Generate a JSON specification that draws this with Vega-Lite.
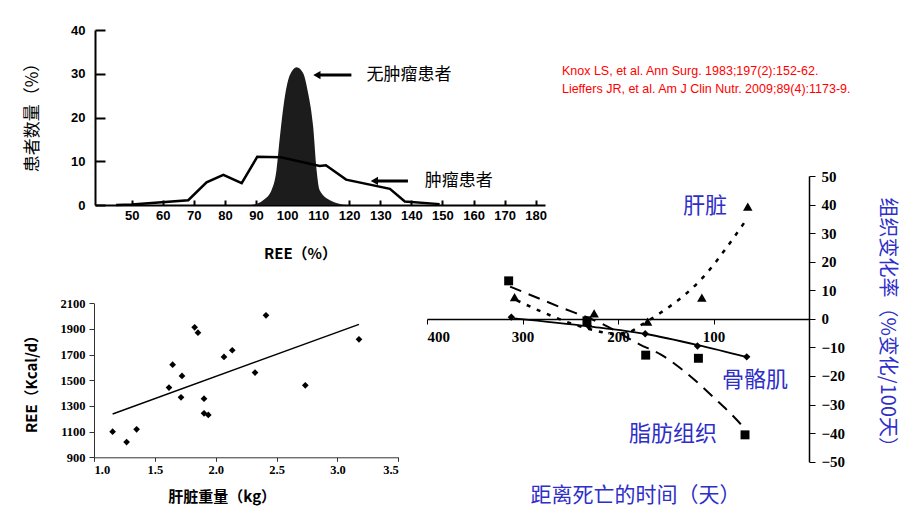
{
  "$schema": "https://vega.github.io/schema/vega-lite/v6.json",
  "width": 920,
  "height": 518,
  "autosize": "none",
  "padding": 0,
  "background": "white",
  "config": {
    "view": {"stroke": null},
    "axis": {"grid": false, "domainColor": "black", "tickColor": "black", "labelColor": "black", "titleColor": "black", "titleAlign": "center", "titleBaseline": "middle"}
  },
  "datasets": {
    "healthy": [
      {"x": 88.6, "y": 0}, {"x": 92.3, "y": 1.1}, {"x": 95, "y": 3.4}, {"x": 96.6, "y": 8}, {"x": 97.7, "y": 15.6},
      {"x": 99.3, "y": 24.8}, {"x": 100.9, "y": 29.7}, {"x": 103.1, "y": 31.5}, {"x": 105.2, "y": 30.1},
      {"x": 106.8, "y": 25.5}, {"x": 108.4, "y": 17.9}, {"x": 109.5, "y": 8}, {"x": 110.5, "y": 3.4},
      {"x": 113.8, "y": 1.1}, {"x": 119.1, "y": 0}
    ],
    "tumor": [
      {"x": 45, "y": 0}, {"x": 50, "y": 0.1}, {"x": 68.2, "y": 1.1}, {"x": 74.1, "y": 5.2}, {"x": 79.5, "y": 6.9},
      {"x": 85.4, "y": 5.0}, {"x": 90.4, "y": 11.0}, {"x": 98, "y": 10.9}, {"x": 110.5, "y": 8.9},
      {"x": 112.5, "y": 9.1}, {"x": 119, "y": 5.8}, {"x": 133.1, "y": 3.7}, {"x": 137.9, "y": 0.8}, {"x": 149.1, "y": 0.2}
    ],
    "arrowShafts": [
      {"x": 110, "x2": 120.7, "y": 29.7},
      {"x": 128, "x2": 138.9, "y": 5.5}
    ],
    "arrowHeads": [
      {"x": 109.6, "y": 29.7},
      {"x": 128.1, "y": 5.5}
    ],
    "labels1": [
      {"label": "无肿瘤患者", "x": 125.6, "y": 29.7},
      {"label": "肿瘤患者", "x": 144.3, "y": 5.5}
    ],
    "liverPts": [
      {"x": 1.153, "y": 1100}, {"x": 1.268, "y": 1019}, {"x": 1.35, "y": 1118}, {"x": 1.616, "y": 1443},
      {"x": 1.646, "y": 1622}, {"x": 1.715, "y": 1367}, {"x": 1.723, "y": 1534}, {"x": 1.827, "y": 1913},
      {"x": 1.854, "y": 1871}, {"x": 1.904, "y": 1357}, {"x": 1.904, "y": 1243}, {"x": 1.939, "y": 1230},
      {"x": 2.068, "y": 1682}, {"x": 2.136, "y": 1734}, {"x": 2.323, "y": 1560}, {"x": 2.413, "y": 2006},
      {"x": 2.736, "y": 1461}, {"x": 3.177, "y": 1819}
    ],
    "trend": [
      {"x": 1.153, "y": 1238}, {"x": 3.177, "y": 1936}
    ],
    "fatPts": [
      {"x": 314.5, "y": 13.3}, {"x": 232.5, "y": -0.7}, {"x": 171, "y": -12.7}, {"x": 115.8, "y": -13.8}, {"x": 67, "y": -40.6}
    ],
    "liverTri": [
      {"x": 308.3, "y": 7.6}, {"x": 225, "y": 1.9}, {"x": 169, "y": -1}, {"x": 112.2, "y": 7.4}, {"x": 64.1, "y": 39.3}
    ],
    "musclePts": [
      {"x": 311.7, "y": 0.6}, {"x": 230.8, "y": -2.5}, {"x": 171.5, "y": -5.2}, {"x": 116.8, "y": -9.5}, {"x": 65.2, "y": -13.3}
    ],
    "muscleCurve": [
      {"x": 309, "y": 0.2}, {"x": 231, "y": -2.6}, {"x": 171, "y": -5.3}, {"x": 116, "y": -9.2}, {"x": 65, "y": -13.4}
    ],
    "fatCurve": [
      {"x": 313, "y": 11.3}, {"x": 262, "y": 4.3}, {"x": 215, "y": -2}, {"x": 177, "y": -9}, {"x": 155, "y": -12.5},
      {"x": 130, "y": -18.5}, {"x": 97, "y": -28.4}, {"x": 79, "y": -34.2}, {"x": 67, "y": -38.5}
    ],
    "liverCurve": [
      {"x": 306, "y": 6.5}, {"x": 280, "y": 2.5}, {"x": 250, "y": -1.5}, {"x": 225, "y": -4}, {"x": 205, "y": -5.2},
      {"x": 190, "y": -4.8}, {"x": 175, "y": -2}, {"x": 156, "y": 2}, {"x": 128, "y": 9}, {"x": 107, "y": 16},
      {"x": 88, "y": 24.2}, {"x": 65, "y": 35}
    ],
    "tissueLabels": [
      {"label": "肝脏", "x": 108.8, "y": 39.6},
      {"label": "骨骼肌", "x": 56.5, "y": -21.4},
      {"label": "脂肪组织", "x": 142.3, "y": -40.3}
    ],
    "refs": [
      {"label": "Knox LS, et al. Ann Surg. 1983;197(2):152-62.", "x": 258.7, "y": 86.6},
      {"label": "Lieffers JR, et al. Am J Clin Nutr. 2009;89(4):1173-9.", "x": 258.7, "y": 80.4}
    ]
  },
  "layer": [
    {
      "encoding": {
        "x": {
          "field": "x", "type": "quantitative",
          "scale": {"domain": [38.2, 183], "range": [95, 545], "nice": false, "zero": false},
          "axis": {
            "orient": "bottom", "offset": -313, "values": [50, 60, 70, 80, 90, 100, 110, 120, 130, 140, 150, 160, 170, 180],
            "tickSize": -5, "tickWidth": 2, "domainWidth": 2, "labelPadding": 9,
            "labelFont": "Liberation Sans", "labelFontWeight": "bold", "labelFontSize": 13,
            "title": "REE（%）", "titleFont": "Noto Sans CJK SC", "titleFontSize": 15, "titleFontWeight": "bold",
            "titleX": 300, "titleY": 48
          }
        },
        "y": {
          "field": "y", "type": "quantitative",
          "scale": {"domain": [0, 40], "range": [205, 30], "nice": false},
          "axis": {
            "orient": "left", "offset": -95, "values": [0, 10, 20, 30, 40],
            "tickSize": -10, "tickWidth": 2, "domainWidth": 2, "labelPadding": 20,
            "labelFont": "Liberation Sans", "labelFontWeight": "bold", "labelFontSize": 13,
            "title": "患者数量（%）", "titleFont": "Noto Sans CJK SC", "titleFontSize": 17, "titleFontWeight": "normal",
            "titleX": -63, "titleY": 113, "titleAngle": 270
          }
        }
      },
      "layer": [
        {"data": {"name": "healthy"}, "mark": {"type": "area", "interpolate": "monotone", "color": "#1c1c1c"}},
        {"data": {"name": "tumor"}, "mark": {"type": "line", "color": "black", "strokeWidth": 2.5}},
        {"data": {"name": "arrowShafts"}, "mark": {"type": "rule", "color": "black", "strokeWidth": 3}, "encoding": {"x2": {"field": "x2"}}},
        {"data": {"name": "arrowHeads"}, "mark": {"type": "point", "shape": "triangle-left", "filled": true, "color": "black", "opacity": 1, "size": 70}},
        {"data": {"name": "labels1"}, "mark": {"type": "text", "align": "left", "baseline": "middle", "font": "Noto Sans CJK SC", "fontSize": 17, "color": "black"}, "encoding": {"text": {"field": "label"}}}
      ]
    },
    {
      "encoding": {
        "x": {
          "field": "x", "type": "quantitative",
          "scale": {"domain": [1, 3.5], "range": [94, 398.3], "nice": false, "zero": false},
          "axis": {
            "orient": "bottom", "offset": -60.7, "values": [1, 1.5, 2, 2.5, 3, 3.5], "format": ".1f",
            "tickSize": 4, "labelPadding": 2, "domainColor": "#333", "tickColor": "#333",
            "labelFont": "Liberation Serif", "labelFontWeight": "bold", "labelFontSize": 12.5,
            "title": "肝脏重量（kg）", "titleFont": "Noto Sans CJK SC", "titleFontSize": 15, "titleFontWeight": "bold",
            "titleX": 221.7, "titleY": 38.7
          }
        },
        "y": {
          "field": "y", "type": "quantitative",
          "scale": {"domain": [900, 2100], "range": [457.3, 303.3], "nice": false, "zero": false},
          "axis": {
            "orient": "left", "offset": -94, "values": [900, 1100, 1300, 1500, 1700, 1900, 2100], "format": "d",
            "tickSize": 5, "labelPadding": 4, "domainColor": "#333", "tickColor": "#333",
            "labelFont": "Liberation Serif", "labelFontWeight": "bold", "labelFontSize": 12.5,
            "title": "REE（Kcal/d）", "titleFont": "Noto Sans CJK SC", "titleFontSize": 15, "titleFontWeight": "bold",
            "titleX": -62.3, "titleY": 380, "titleAngle": 270
          }
        }
      },
      "layer": [
        {"data": {"name": "trend"}, "mark": {"type": "line", "color": "black", "strokeWidth": 1.5}},
        {"data": {"name": "liverPts"}, "mark": {"type": "point", "shape": "diamond", "filled": true, "color": "black", "opacity": 1, "size": 45}}
      ]
    },
    {
      "encoding": {
        "x": {
          "field": "x", "type": "quantitative",
          "scale": {"domain": [400, 0], "range": [427, 809], "nice": false, "zero": false},
          "axis": {
            "orient": "bottom", "offset": -199, "values": [400, 300, 200, 100],
            "tickSize": 5, "labelPadding": 5, "domainWidth": 1.5,
            "labelFont": "Liberation Serif", "labelFontWeight": "bold", "labelFontSize": 15,
            "title": "距离死亡的时间（天）", "titleFont": "Noto Sans CJK SC", "titleFontSize": 21, "titleFontWeight": "normal",
            "titleColor": "#2e2ec8", "titleX": 635, "titleY": 176
          }
        },
        "y": {
          "field": "y", "type": "quantitative",
          "scale": {"domain": [-50, 50], "range": [461.7, 176], "nice": false, "zero": false},
          "axis": {
            "orient": "right", "offset": -111, "values": [-50, -40, -30, -20, -10, 0, 10, 20, 30, 40, 50],
            "tickSize": 6, "labelPadding": 6, "domainWidth": 1.5,
            "labelFont": "Liberation Serif", "labelFontWeight": "bold", "labelFontSize": 15,
            "title": "组织变化率（%变化/100天）", "titleFont": "Noto Sans CJK SC", "titleFontSize": 20, "titleFontWeight": "normal",
            "titleColor": "#2e2ec8", "titleX": 77.7, "titleY": 326.7, "titleAngle": 90
          }
        }
      },
      "layer": [
        {"data": {"name": "muscleCurve"}, "mark": {"type": "line", "interpolate": "monotone", "color": "black", "strokeWidth": 1.8}},
        {"data": {"name": "fatCurve"}, "mark": {"type": "line", "interpolate": "monotone", "color": "black", "strokeWidth": 2, "strokeDash": [12, 8]}},
        {"data": {"name": "liverCurve"}, "mark": {"type": "line", "interpolate": "monotone", "color": "black", "strokeWidth": 2.5, "strokeDash": [4, 7]}},
        {"data": {"name": "fatPts"}, "mark": {"type": "point", "shape": "square", "filled": true, "color": "black", "opacity": 1, "size": 80}},
        {"data": {"name": "liverTri"}, "mark": {"type": "point", "shape": "triangle-up", "filled": true, "color": "black", "opacity": 1, "size": 90}},
        {"data": {"name": "musclePts"}, "mark": {"type": "point", "shape": "diamond", "filled": true, "color": "black", "opacity": 1, "size": 55}},
        {"data": {"name": "tissueLabels"}, "mark": {"type": "text", "align": "center", "baseline": "middle", "font": "Noto Sans CJK SC", "fontSize": 22, "color": "#2e2ec8"}, "encoding": {"text": {"field": "label"}}},
        {"data": {"name": "refs"}, "mark": {"type": "text", "align": "left", "baseline": "middle", "font": "Liberation Sans", "fontSize": 12.5, "color": "#ff0000"}, "encoding": {"text": {"field": "label"}}}
      ]
    }
  ],
  "resolve": {
    "scale": {"x": "independent", "y": "independent"},
    "axis": {"x": "independent", "y": "independent"}
  }
}
